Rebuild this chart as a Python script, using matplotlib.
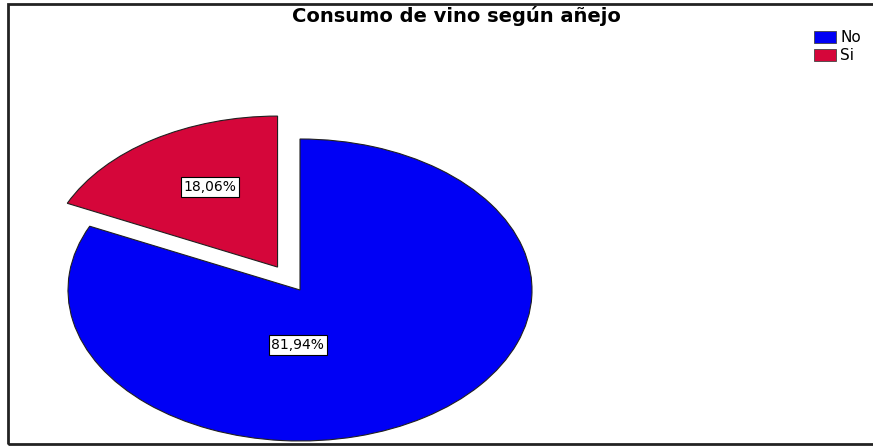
import matplotlib.pyplot as plt
from matplotlib.patches import Patch, Rectangle

# consumo de vino segun anejo
categorias = ['No', 'Si']
porcentajes = [81.94, 18.06]
colores = ['#0000f5', '#d5063a']
separacion = [0.0, 0.18]

fig = plt.figure(figsize=(8.73, 4.48), dpi=100)
ax = fig.add_axes([0, 0, 1, 1])

wedges, _ = ax.pie(porcentajes, colors=colores, explode=separacion,
                   startangle=90, counterclock=False,
                   wedgeprops=dict(edgecolor='#202020', linewidth=0.8))

# the pie is drawn flattened, so let the axes stretch it
ax.set_aspect('auto')
ax.set_xlim(-300 / 232, (873 - 300) / 232)
ax.set_ylim(-158 / 151, (448 - 158) / 151)
ax.axis('off')

# percentage labels
caja = dict(boxstyle='square,pad=0.2', fc='white', ec='black', lw=0.8)
pos_etiquetas = [(-0.009, -0.364), (-0.388, 0.682)]
for p, (x, y) in zip(porcentajes, pos_etiquetas):
    ax.text(x, y, f'{p:.2f}%'.replace('.', ','), ha='center', va='center',
            fontsize=10, family='DejaVu Sans', bbox=caja)

# outer frame
fig.patches.append(Rectangle((8 / 873, 4 / 448), 880 / 873, 440 / 448,
                             transform=fig.transFigure, fill=False,
                             ec='#222222', lw=2))

fig.text(456 / 873, 1 - 16 / 448, 'Consumo de vino según añejo',
         ha='center', va='center', fontsize=14, fontweight='bold',
         family='DejaVu Sans')

handles = [Patch(fc=c, ec='#444444', lw=0.6) for c in colores]
fig.legend(handles, categorias, loc='upper left',
           bbox_to_anchor=(808 / 873, 1 - 24 / 448), frameon=False,
           fontsize=11, handlelength=1.45, handleheight=0.8,
           handletextpad=0.25, labelspacing=0.2, borderaxespad=0)

fig.savefig('out.png', dpi=100)
